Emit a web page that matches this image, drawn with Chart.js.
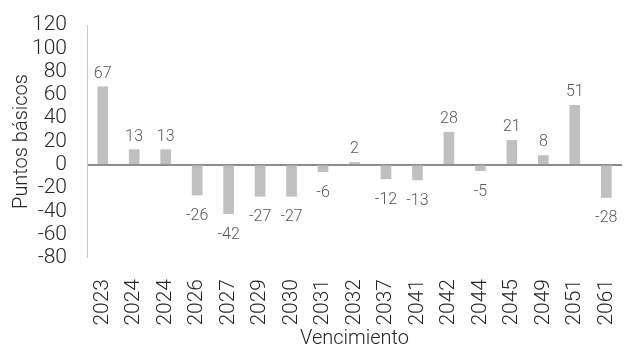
<!DOCTYPE html>
<html>
<head>
<meta charset="utf-8">
<script src="https://cdn.jsdelivr.net/npm/chart.js@4"></script>
<style>
  body { margin: 0; background: #fff; }
  #wrap { width: 628px; height: 351px; }
</style>
</head>
<body>
<div id="wrap"><canvas id="spreadChart" width="628" height="351"></canvas></div>
<script>
var vencimientos = ['2023', '2024', '2024', '2026', '2027', '2029', '2030', '2031', '2032',
                    '2037', '2041', '2042', '2044', '2045', '2049', '2051', '2061'];
var puntosBasicos = [67, 13, 13, -26, -42, -27, -27, -6, 2, -12, -13, 28, -5, 21, 8, 51, -28];
var yTicks = { min: -80, max: 120, step: 20 };

var FONT = 'Roboto, "Liberation Sans", sans-serif';

// value labels above positive bars and below negative ones
var barLabels = {
    id: 'barLabels',
    afterDatasetsDraw: function (chart) {
        var c = chart.ctx;
        var meta = chart.getDatasetMeta(0);
        c.save();
        c.font = '300 16px ' + FONT;
        c.fillStyle = '#595959';
        c.textAlign = 'center';
        meta.data.forEach(function (bar, i) {
            var v = puntosBasicos[i];
            if (v >= 0) {
                c.textBaseline = 'bottom';
                c.fillText(String(v), bar.x, bar.y - 5);
            } else {
                c.textBaseline = 'top';
                c.fillText(String(v), bar.x, bar.y + 13);
            }
        });
        c.restore();
    }
};

var ctx = document.getElementById('spreadChart').getContext('2d');
var chart_spread = new Chart(ctx, {
    type: 'bar',
    data: {
        labels: vencimientos,
        datasets: [{
            data: puntosBasicos,
            backgroundColor: '#c0c0c0',
            borderWidth: 0,
            barThickness: 10
        }]
    },
    options: {
        responsive: false,
        animation: false,
        layout: { padding: { top: 25, right: 6, left: 0, bottom: 0 } },
        plugins: {
            legend: { display: false },
            tooltip: { enabled: false }
        },
        scales: {
            x: {
                grid: { display: false },
                border: { display: false },
                ticks: {
                    minRotation: 90,
                    maxRotation: 90,
                    autoSkip: false,
                    padding: 13,
                    color: '#262626',
                    font: { family: FONT, size: 21, weight: 300 }
                },
                title: {
                    display: true,
                    text: 'Vencimiento',
                    color: '#262626',
                    padding: { top: 6, bottom: 0 },
                    font: { family: FONT, size: 20, weight: 300 }
                },
                afterFit: function (scale) {
                    scale.height = 93;
                    scale.paddingLeft = 0;
                    scale.paddingRight = 0;
                }
            },
            y: {
                min: yTicks.min,
                max: yTicks.max,
                grid: {
                    drawTicks: false,
                    // only the zero line is drawn
                    color: function (c) { return c.tick && c.tick.value === 0 ? '#8c8c8c' : 'rgba(0,0,0,0)'; },
                    lineWidth: function (c) { return c.tick && c.tick.value === 0 ? 2 : 0; }
                },
                border: { display: true, color: '#c8c8c8', width: 1 },
                ticks: {
                    stepSize: yTicks.step,
                    autoSkip: false,
                    padding: 20,
                    color: '#262626',
                    font: { family: FONT, size: 21, weight: 300 }
                },
                title: {
                    display: true,
                    text: 'Puntos básicos',
                    color: '#262626',
                    padding: { top: 10, bottom: 0 },
                    font: { family: FONT, size: 20, weight: 300 }
                },
                afterFit: function (scale) {
                    scale.width = 87;
                    scale.paddingTop = 0;
                    scale.paddingBottom = 0;
                }
            }
        }
    },
    plugins: [barLabels]
});
</script>
</body>
</html>
